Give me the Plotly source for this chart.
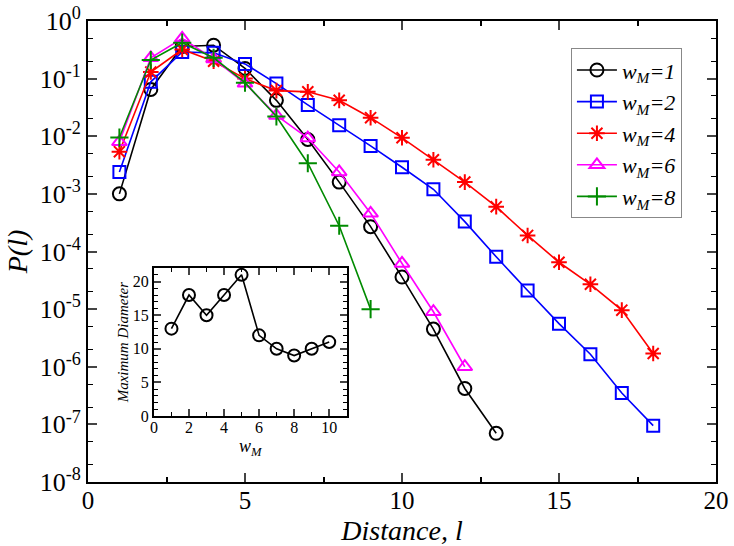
import plotly.graph_objects as go

# ---- data ----
dist_1 = list(range(1, 14))
p_1 = [1e-3, 0.065, 0.36, 0.38, 0.15, 0.042, 0.0088, 0.0016, 2.7e-4, 3.6e-5, 4.5e-6, 4.2e-7, 7e-8]

dist_2 = list(range(1, 19))
p_2 = [0.0024, 0.088, 0.29, 0.28, 0.18, 0.082, 0.035, 0.0155, 0.0068, 0.0029, 0.0012,
       3.3e-4, 8.1e-5, 2.1e-5, 5.6e-6, 1.65e-6, 3.5e-7, 9.5e-8]

dist_4 = list(range(1, 19))
p_4 = [0.0054, 0.13, 0.32, 0.2, 0.1, 0.062, 0.059, 0.042, 0.021, 0.0094, 0.0039,
       0.0016, 6e-4, 1.9e-4, 6.5e-5, 2.7e-5, 9.6e-6, 1.7e-6]

dist_6 = list(range(1, 13))
p_6 = [0.008, 0.23, 0.5, 0.22, 0.083, 0.023, 0.0093, 0.0024, 4.6e-4, 6.2e-5, 9e-6, 1e-6]

dist_8 = list(range(1, 10))
p_8 = [0.0095, 0.21, 0.42, 0.23, 0.085, 0.022, 0.0034, 2.8e-4, 1.0e-5]

inset_wm = list(range(1, 11))
inset_diam = [13, 18, 15, 18, 21, 12, 10, 9, 10, 11]

series_names = ["w<sub>M</sub>=1", "w<sub>M</sub>=2", "w<sub>M</sub>=4", "w<sub>M</sub>=6", "w<sub>M</sub>=8"]
y_exponents = [0, -1, -2, -3, -4, -5, -6, -7, -8]
x_ticks = [0, 5, 10, 15, 20]
inset_x_ticks = [0, 2, 4, 6, 8, 10]
inset_y_ticks = [0, 5, 10, 15, 20]

FONT = "Liberation Serif, Times New Roman, DejaVu Serif, serif"

fig = go.Figure()

styles = [
    dict(color="black", symbol="circle-open", size=13),
    dict(color="#0000ff", symbol="square-open", size=12),
    dict(color="#ff0000", symbol="asterisk-open", size=13),
    dict(color="#ff00ff", symbol="triangle-up-open", size=13),
    dict(color="rgb(0,139,0)", symbol="cross-thin-open", size=13),
]
data = [(dist_1, p_1), (dist_2, p_2), (dist_4, p_4), (dist_6, p_6), (dist_8, p_8)]

for (xs, ys), st, name in zip(data, styles, series_names):
    fig.add_trace(go.Scatter(
        x=xs, y=ys, mode="lines+markers", name=name,
        line=dict(color=st["color"], width=1.6),
        marker=dict(symbol=st["symbol"], size=st["size"], color=st["color"],
                    line=dict(color=st["color"], width=2)),
        xaxis="x", yaxis="y",
    ))

fig.add_trace(go.Scatter(
    x=inset_wm, y=inset_diam, mode="lines+markers", showlegend=False,
    line=dict(color="black", width=1.6),
    marker=dict(symbol="circle-open", size=12, color="black", line=dict(color="black", width=2)),
    xaxis="x2", yaxis="y2",
))

fig.update_layout(
    width=734, height=546,
    margin=dict(l=88, r=18, t=21, b=64, autoexpand=False),
    paper_bgcolor="white", plot_bgcolor="white",
    font=dict(family=FONT, color="black"),
    showlegend=True,
    legend=dict(
        x=0.769, y=0.941, xanchor="left", yanchor="top",
        bgcolor="white", bordercolor="#888888", borderwidth=1,
        font=dict(family=FONT, size=22, style="italic"),
        tracegroupgap=0, itemwidth=40,
    ),
    xaxis=dict(
        domain=[0, 1], range=[0, 20], tickvals=x_ticks, ticks="inside", ticklen=9, tickwidth=2,
        showline=True, linewidth=2, linecolor="black", mirror="ticks",
        showgrid=False, zeroline=False, automargin=False, ticklabelstandoff=-5,
        minor=dict(dtick=2.5, ticks="inside", ticklen=5, tickwidth=1.5, tickcolor="black"),
        tickfont=dict(family=FONT, size=25),
        title=dict(text="<i>Distance, l</i>", font=dict(family=FONT, size=28), standoff=8),
    ),
    yaxis=dict(
        domain=[0, 1], type="log", range=[-8, 0],
        tickvals=[10 ** e for e in y_exponents],
        ticktext=["10<sup>%d</sup>" % e for e in y_exponents],
        ticks="inside", ticklen=9, tickwidth=2,
        showline=True, linewidth=2, linecolor="black", mirror="ticks",
        showgrid=False, zeroline=False, automargin=False,
        minor=dict(ticks="inside", ticklen=5, tickwidth=1.2, tickcolor="black"),
        tickfont=dict(family=FONT, size=26),
        title=dict(text="<i>P(l)</i>", font=dict(family=FONT, size=28), standoff=4),
    ),
    xaxis2=dict(
        domain=[0.105, 0.412], anchor="y2", range=[0, 11], tickvals=inset_x_ticks,
        ticks="inside", ticklen=7, tickwidth=1.8,
        showline=True, linewidth=2, linecolor="black", mirror="ticks",
        showgrid=False, zeroline=False, automargin=False, ticklabelstandoff=-4,
        minor=dict(dtick=1, ticks="inside", ticklen=4, tickwidth=1.2, tickcolor="black"),
        tickfont=dict(family=FONT, size=16),
        title=dict(text="<i>w<sub>M</sub></i>", font=dict(family=FONT, size=18), standoff=0),
    ),
    yaxis2=dict(
        domain=[0.143, 0.464], anchor="x2", range=[0, 22], tickvals=inset_y_ticks,
        ticks="inside", ticklen=7, tickwidth=1.8,
        showline=True, linewidth=2, linecolor="black", mirror="ticks",
        showgrid=False, zeroline=False, automargin=False,
        minor=dict(dtick=1, ticks="inside", ticklen=4, tickwidth=1.2, tickcolor="black"),
        tickfont=dict(family=FONT, size=16),
        title=dict(text="<i>Maximum Diameter</i>", font=dict(family=FONT, size=15), standoff=0),
    ),
)

# remove the browser's default 8px page margin so the figure fills the window exactly
fig.write_html("out.html", config={"displayModeBar": False},
               post_script="document.body.style.margin='0px';")
